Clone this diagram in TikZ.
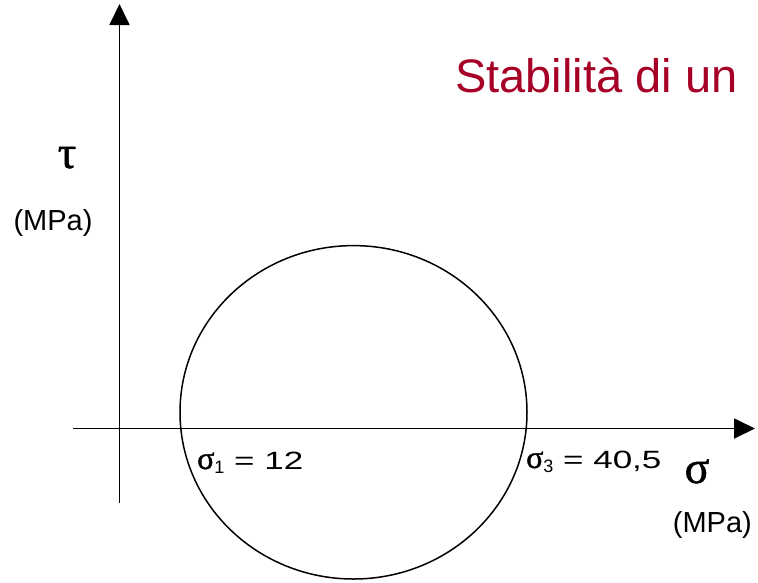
\documentclass[tikz,border=0pt]{standalone}
\usepackage{fontspec}
\setmainfont{Liberation Sans}
\newfontfamily\grkfont[FakeBold=1.2]{Liberation Serif}
\newfontfamily\widefont[FakeStretch=1.4]{Liberation Sans}
\usetikzlibrary{arrows.meta}
\definecolor{titlered}{RGB}{166,0,38}

\begin{document}
\begin{tikzpicture}[x=1pt,y=-1pt]
    \useasboundingbox (0,0) rectangle (758,582);
    % axes
    \coordinate (tauend) at (119.5,503);
    \coordinate (tautip) at (119.5,4);
    \coordinate (sigend) at (73,428.5);
    \coordinate (sigtip) at (755,428.5);
    \draw[line width=1.8pt, -{Triangle[length=21pt,width=20pt]}] (tauend) -- (tautip);
    \draw[line width=1.8pt, -{Triangle[length=21pt,width=20pt]}] (sigend) -- (sigtip);
    % Mohr circle
    \draw[line width=1.5pt] (353.5,412.3) ellipse [x radius=173.5, y radius=166.7];
    % axis labels
    \node (tau) at (67,168) [anchor=base, inner sep=0pt, font=\grkfont\fontsize{46}{46}\selectfont] {τ};
    \node (taumpa) at (53,230) [anchor=base, inner sep=0pt, font=\fontsize{29}{29}\selectfont] {(MPa)};
    \node (sigma) at (697,483) [anchor=base, inner sep=0pt, font=\grkfont\fontsize{46}{46}\selectfont] {σ};
    \node (sigmpa) at (752,532) [anchor=base east, inner sep=0pt, font=\fontsize{29}{29}\selectfont] {(MPa)};
    \node (title) at (455,92) [anchor=base west, inner sep=0pt, text=titlered, font=\fontsize{47}{47}\selectfont] {Stabilità di un};
    % principal stresses
    \node (sone) at (197,469) [anchor=base west, inner sep=0pt] {{\grkfont\fontsize{32}{32}\selectfont σ}\raisebox{-4pt}{\fontsize{18}{18}\selectfont 1}{\widefont\fontsize{25}{25}\selectfont{} = 12}};
    \node (sthree) at (526,468) [anchor=base west, inner sep=0pt] {{\grkfont\fontsize{32}{32}\selectfont σ}\raisebox{-4pt}{\fontsize{18}{18}\selectfont 3}{\widefont\fontsize{25}{25}\selectfont{} = 40,5}};
\end{tikzpicture}
\end{document}
